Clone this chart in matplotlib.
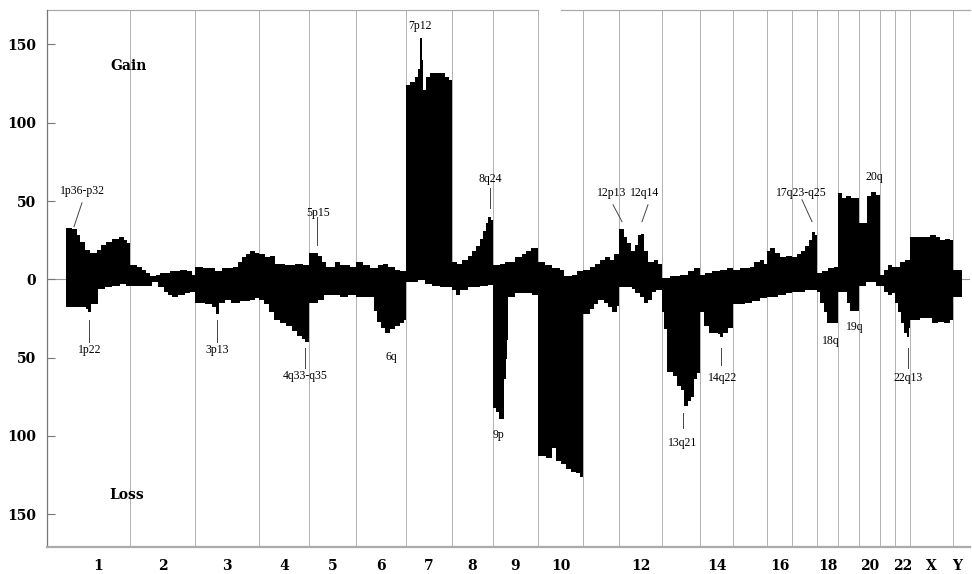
import matplotlib

matplotlib.use("Agg")
import matplotlib.pyplot as plt
import numpy as np

# Relative chromosome lengths along the genome axis (1..22, X, Y)
chrom_names = [str(i) for i in range(1, 23)] + ["X", "Y"]
chrom_sizes = [64, 65, 64, 50, 47, 50, 46, 41, 45, 45, 36, 43,
               38, 33, 34, 25, 25, 21, 21, 21, 15, 15, 43, 9]
shown_labels = ["1", "2", "3", "4", "5", "6", "7", "8", "9", "10",
                "12", "14", "16", "18", "20", "22", "X", "Y"]

# Gain profile: breakpoint positions and number of cases with gain
gain_pos = [0, 6, 11, 14, 19, 24, 31, 35, 40, 46, 53, 58, 61,
            64, 71, 76, 80, 84, 90, 94, 104, 114, 121, 126,
            129, 137, 144, 149, 156, 162, 167, 172, 176, 180, 184, 189,
            193, 199, 204, 209, 219, 229, 237,
            243, 252, 256, 260, 269, 274, 284,
            290, 297, 304, 312, 317, 322, 329, 334,
            340, 344, 349, 352, 353.5, 355.5, 357, 360, 364, 372, 379, 383,
            386, 391, 396, 402, 406, 410, 414, 417, 420, 422, 425,
            427, 434, 439, 449, 456, 460, 465,
            472, 479, 486, 494, 498, 506, 511,
            517, 524, 529, 534, 539, 544, 548,
            553, 558, 561, 565, 569, 572, 575, 578, 582, 588, 592,
            596, 604, 614, 622, 628,
            634, 639, 646, 654, 661,
            667, 674, 684, 688, 694, 698,
            701, 704, 709, 714, 720,
            726, 731, 735, 739, 743, 746, 749,
            751, 756, 762, 768,
            772, 776, 780, 785,
            793, 801, 805, 810,
            814, 818, 822, 826,
            829, 834, 839,
            844, 854, 864, 870, 874, 879, 884,
            887, 896]
gain_val = [33, 32, 28, 24, 19, 17, 19, 22, 24, 26, 27, 25, 23,
            9, 8, 6, 4, 2, 3, 4, 5, 6, 5, 3,
            8, 7, 7, 5, 7, 7, 8, 11, 14, 16, 18, 17,
            16, 14, 15, 10, 9, 10, 9,
            17, 15, 11, 8, 11, 9, 8,
            11, 9, 7, 9, 10, 8, 6, 5,
            124, 126, 129, 134, 154, 140, 121, 129, 132, 132, 129, 127,
            11, 10, 12, 15, 18, 21, 26, 31, 36, 40, 38,
            9, 10, 11, 14, 16, 18, 20,
            11, 9, 7, 6, 2, 3, 5,
            6, 8, 10, 12, 14, 12, 16,
            32, 27, 23, 18, 22, 28, 29, 18, 11, 12, 10,
            1, 2, 3, 5, 7,
            3, 4, 5, 6, 7,
            6, 7, 8, 11, 12, 10,
            18, 20, 17, 14, 15,
            14, 16, 18, 21, 25, 30, 28,
            4, 5, 7, 8,
            55, 52, 53, 52,
            36, 53, 56, 54,
            3, 6, 9, 8,
            8, 11, 12,
            27, 27, 28, 27, 25, 26, 25,
            6, 6]

# Loss profile: breakpoint positions and number of cases with loss
loss_pos = [0, 20, 22, 25, 32, 39, 46, 54, 60,
            64, 74, 86, 92, 98, 102, 106, 112, 119, 124,
            129, 139, 146, 150, 153, 159, 165, 174, 184, 189,
            193, 198, 203, 208, 214, 220, 226, 231, 236, 239,
            243, 252, 258, 266, 274, 282,
            290, 308, 311, 315, 319, 324, 329, 334, 338,
            340, 352, 359, 366, 374,
            386, 390, 394, 402, 414, 422,
            427, 430, 433, 438, 439.5, 440.5, 442, 449, 459, 466,
            472, 480, 486, 490, 495, 500, 505, 510, 514,
            517, 524, 528, 532, 538, 542, 546, 551,
            553, 566, 569, 574, 578, 582, 586, 590,
            596, 598, 601, 607, 611, 615, 618, 622, 625, 628, 631,
            634, 638, 643, 652, 654, 657, 662,
            667, 679, 686, 694,
            701, 712, 720,
            726, 739,
            751, 754, 758, 761,
            772, 781, 784,
            793, 800, 810,
            814, 818, 822, 826,
            829, 832, 835, 838, 841, 843,
            844, 854, 866, 872, 878, 884,
            887, 896]
loss_val = [18, 19, 21, 16, 6, 5, 4, 3, 4,
            4, 4, 2, 5, 8, 10, 11, 10, 9, 8,
            15, 16, 18, 22, 15, 13, 15, 14, 13, 12,
            13, 16, 21, 26, 28, 30, 33, 36, 38, 40,
            15, 13, 10, 10, 11, 10,
            11, 20, 27, 31, 34, 32, 30, 28, 26,
            2, 0.5, 3, 4, 5,
            7, 10, 7, 5, 4, 3.5,
            82, 85, 89, 64, 51, 39, 11, 9, 9, 10,
            113, 114, 108, 116, 118, 121, 123, 124, 126,
            22, 19, 16, 13, 15, 18, 21, 17,
            5, 6, 9, 11, 15, 13, 8, 7,
            21, 32, 59, 62, 68, 71, 81, 78, 75, 64, 60,
            21, 30, 34, 35, 37, 34, 31,
            16, 15, 14, 12,
            11, 10, 9,
            8, 7,
            8, 15, 21, 28,
            8, 15, 20,
            4, 2, 4,
            4, 8, 10, 9,
            15, 21, 28, 34, 37, 31,
            26, 25, 28, 27, 28, 26,
            11, 11]

# Cytoband annotations: label, x, text y, optional leader (x0, y0, x1, y1)
annotations = [
    ("1p36-p32", 16, 56.6, (16, 48.9, 8, 33.6)),
    ("5p15", 252, 42.5, (251, 40, 251, 22)),
    ("7p12", 354, 162, None),
    ("8q24", 424, 64, (424, 58, 424, 45.7)),
    ("12p13", 546, 55.3, (547, 47.6, 556, 36.8)),
    ("12q14", 579, 55.3, (582, 47.6, 576, 36.8)),
    ("17q23-q25", 735, 55.3, (736, 50.8, 746, 36.8)),
    ("20q", 808, 65.5, None),
    ("1p22", 24, -45, (23, -25.9, 23, -40)),
    ("3p13", 151, -45, (151, -25.9, 151, -40)),
    ("4q33-q35", 239, -61.7, (239, -43.8, 239, -56.6)),
    ("6q", 325, -49.6, None),
    ("9p", 432, -99.4, None),
    ("13q21", 617, -104.5, (617, -85.4, 617, -94.9)),
    ("14q22", 657, -63, (655, -43.8, 655, -54.7)),
    ("18q", 765, -39.3, None),
    ("19q", 789, -30.4, None),
    ("22q13", 842, -63, (842, -43.8, 842, -56.6)),
]

bounds = np.concatenate([[0], np.cumsum(chrom_sizes)])
centers = (bounds[:-1] + bounds[1:]) / 2

fig = plt.figure(figsize=(9.72, 5.74), dpi=100)
ax = fig.add_axes([47 / 972, 27 / 574, 923 / 972, 537 / 574])
ax.set_xlim(-19, 904)
ax.set_ylim(-171, 172)

# chromosome separators and baseline
for b in bounds[1:-1]:
    ax.axvline(b, color="#a5a5a5", lw=0.6, zorder=1)
ax.axhline(0, color="#999999", lw=0.8, zorder=1)

ax.fill_between(gain_pos, 0, gain_val, step="post", color="black", lw=0, zorder=2)
ax.fill_between(loss_pos, 0, -np.array(loss_val), step="post", color="black", lw=0, zorder=2)

# labels
for text, x, y, leader in annotations:
    ax.text(x, y, text, ha="center", va="center", fontsize=8.5,
            family="Liberation Serif", zorder=3)
    if leader is not None:
        x0, y0, x1, y1 = leader
        ax.plot([x0, x1], [y0, y1], color="#444444", lw=0.7, zorder=3)

ax.text(63, 136, "Gain", ha="center", va="center", fontsize=10,
        family="DejaVu Serif", fontweight="bold")
ax.text(61, -138, "Loss", ha="center", va="center", fontsize=10,
        family="DejaVu Serif", fontweight="bold")

# axes styling
yt = [150, 100, 50, 0, -50, -100, -150]
ax.set_yticks(yt)
ax.set_yticklabels([str(abs(v)) for v in yt], family="DejaVu Serif",
                   fontweight="bold", fontsize=10)
ax.tick_params(axis="y", direction="in", length=6, width=0.8,
               color="#777777", pad=8)

label_idx = [chrom_names.index(n) for n in shown_labels]
ax.set_xticks(centers[label_idx])
ax.set_xticklabels(shown_labels, family="DejaVu Serif", fontweight="bold",
                   fontsize=10)
ax.tick_params(axis="x", length=0, pad=9)

for side in ("top", "right"):
    ax.spines[side].set_visible(False)
ax.spines["left"].set_color("#777777")
ax.spines["left"].set_linewidth(0.9)
ax.spines["bottom"].set_color("#aaaaaa")
ax.spines["bottom"].set_linewidth(1.6)

# top frame line, broken above chromosome 10
top = ax.get_xaxis_transform()
ax.plot([-19, 472], [1, 1], transform=top, color="#aaaaaa", lw=0.9,
        clip_on=False)
ax.plot([495, 904], [1, 1], transform=top, color="#aaaaaa", lw=0.9,
        clip_on=False)

fig.savefig("out.png", dpi=100)
